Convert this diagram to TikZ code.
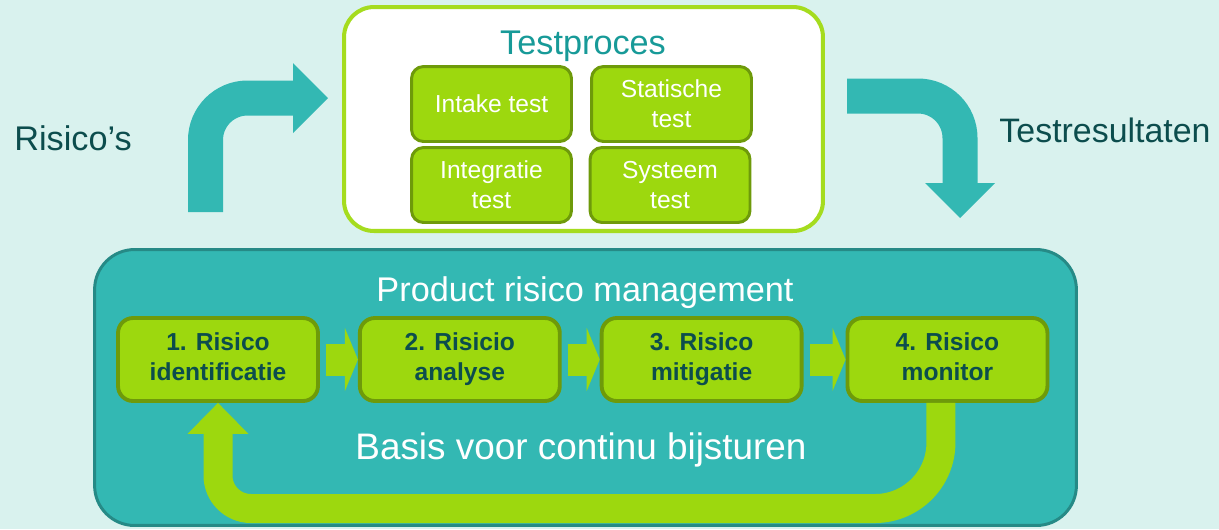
\documentclass[tikz,border=0pt]{standalone}
\usepackage{fontspec}
\setmainfont{Liberation Sans}
\usepackage{tikz}
\usetikzlibrary{arrows.meta,positioning}
\definecolor{bgmint}{HTML}{D9F2EE}
\definecolor{tealfill}{HTML}{33B8B3}
\definecolor{tealedge}{HTML}{268A86}
\definecolor{limefill}{HTML}{9DD80E}
\definecolor{limeedge}{HTML}{6E9A0A}
\definecolor{limering}{HTML}{A5DC1E}
\definecolor{darktext}{HTML}{0C4D4D}
\definecolor{titleteal}{HTML}{179A98}
\tikzset{
  testbox/.style={ draw=limeedge, fill=limefill, line width=1.7pt, rounded corners=0.24cm,
    minimum width=3.2cm, minimum height=1.5cm, align=center, text=white,
    font=\fontsize{14}{17}\selectfont }
}
\tikzset{
  stepbox/.style={ draw=limeedge, fill=limefill, line width=2.2pt, rounded corners=0.3cm,
    minimum width=4cm, minimum height=1.66cm, align=center, text=darktext,
    font=\fontsize{14}{17}\selectfont\bfseries,
    execute at begin node={\rule{0pt}{22pt}}, execute at end node=\vphantom{g} }
}
\tikzset{
  bigarrow/.style={ draw=tealfill, line width=0.7cm, rounded corners=0.84cm,
    -{Triangle[width=1.4cm,length=0.7cm,line width=0pt]} }
}
\tikzset{
  steparrow/.style={ draw=limefill, line width=0.64cm, shorten <=0.12cm,
    -{Triangle[width=1.26cm,length=0.26cm,line width=0pt]} }
}
\tikzset{
  fback/.style={ draw=limefill, line width=0.58cm,
    -{Triangle[width=1.22cm,length=0.62cm,line width=0pt]} }
}
\begin{document}
\begin{tikzpicture}[x=0.02cm, y=-0.02cm]
  \fill[bgmint] (0,0) rectangle (1219,529);
  \useasboundingbox (0,0) rectangle (1219,529);

  \node[draw=limering, fill=white, line width=2.3pt, rounded corners=0.6cm,
        minimum width=9.58cm, minimum height=4.48cm] (tp) at (583.5,119) {};
  \node[text=titleteal, font=\fontsize{19.5}{22}\selectfont] (tptitle) at (583,46) {Testproces};
  \node[testbox] (intake) at (491.5,104) {Intake test};
  \node[testbox] (statisch) at (671.5,104) {Statische\\test};
  \node[testbox] (integr) at (491.5,185) {Integratie\\test};
  \node[testbox] (systeem) at (670,185) {Systeem\\test};

  \node[text=darktext, font=\fontsize{19.5}{22}\selectfont] (risk) at (73,138) {Risico’s};
  \node[text=darktext, font=\fontsize{19.3}{22}\selectfont] (result) at (1105,130) {Testresultaten};

  \coordinate (riskin) at (205.5,212);
  \coordinate (riskout) at (328,98);
  \coordinate (resin) at (847,96);
  \coordinate (resout) at (960,218);
  \draw[bigarrow] (riskin) |- (riskout);
  \draw[bigarrow] (resin) -| (resout);

  \node[draw=tealedge, fill=tealfill, line width=1.7pt, rounded corners=0.8cm,
        minimum width=19.64cm, minimum height=5.52cm] (prm) at (585.5,387.5) {};
  \node[text=white, font=\fontsize{19.5}{22}\selectfont] (prmtitle) at (585,293) {Product risico management};
  \node[text=white, font=\fontsize{21}{24}\selectfont] (basis) at (581,450) {Basis voor continu bijsturen};

  \node[stepbox] (s1) at (218,359.5) {1. Risico\\identificatie};
  \node[stepbox, right=0.76cm of s1] (s2) {2. Risicio\\analyse};
  \node[stepbox, right=0.76cm of s2] (s3) {3. Risico\\mitigatie};
  \node[stepbox, right=0.84cm of s3] (s4) {4. Risico\\monitor};

  \draw[steparrow] (s1) -- (s2);
  \draw[steparrow] (s2) -- (s3);
  \draw[steparrow] (s3) -- (s4);

  \coordinate (fbline) at (585,508.5);
  \draw[fback] ([xshift=-0.13cm]s4.south) [rounded corners=1.32cm] -- ([xshift=-0.13cm]s4.south |- fbline)
    [rounded corners=0.66cm] -- (s1.south |- fbline) -- (s1.south);
\end{tikzpicture}
\end{document}
